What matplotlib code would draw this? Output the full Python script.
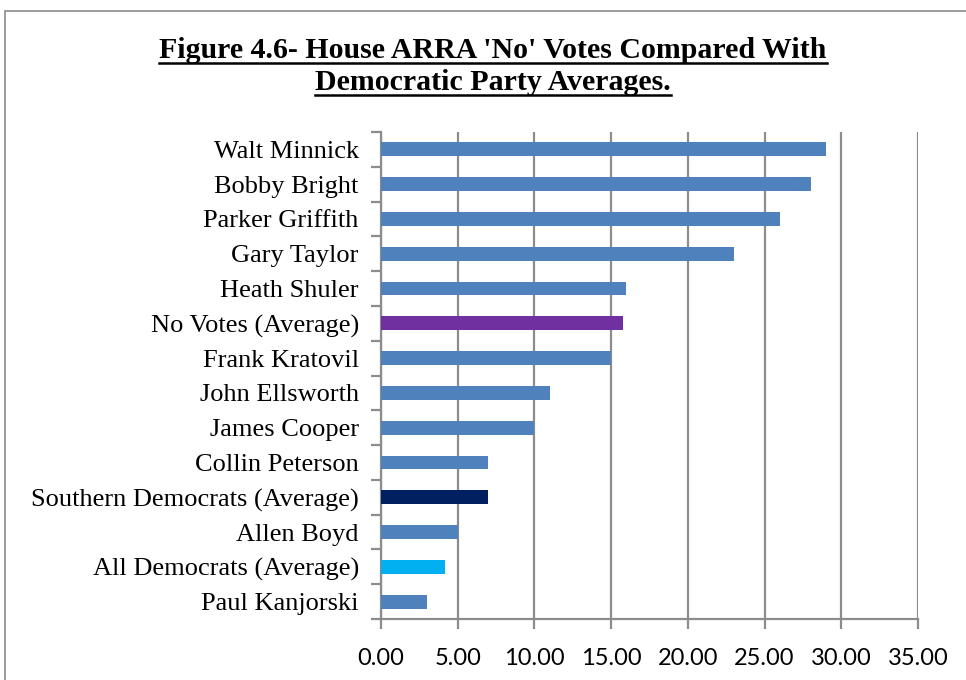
import matplotlib
matplotlib.use("Agg")
import matplotlib.pyplot as plt
from matplotlib.lines import Line2D
from matplotlib.patches import Rectangle
import numpy as np

categories = ["Walt Minnick", "Bobby Bright", "Parker Griffith", "Gary Taylor",
              "Heath Shuler", "No Votes (Average)", "Frank Kratovil", "John Ellsworth",
              "James Cooper", "Collin Peterson", "Southern Democrats (Average)",
              "Allen Boyd", "All Democrats (Average)", "Paul Kanjorski"]
values = [29.0, 28.0, 26.0, 23.0, 16.0, 15.75, 15.0, 11.0, 10.0, 7.0, 6.95, 5.0, 4.2, 3.0]
bar_colors = ["#4F81BD"] * 5 + ["#7030A0"] + ["#4F81BD"] * 4 + ["#002060", "#4F81BD", "#00B0F0", "#4F81BD"]
xticks = [0, 5, 10, 15, 20, 25, 30, 35]
xticklabels = ["0.00", "5.00", "10.00", "15.00", "20.00", "25.00", "30.00", "35.00"]
title_lines = ["Figure 4.6- House ARRA 'No' Votes Compared With", "Democratic Party Averages."]

W, H = 966, 680
fig = plt.figure(figsize=(W / 100, H / 100), dpi=100)
fig.patch.set_facecolor("white")

# outer chart frame
fig.add_artist(Rectangle((5 / W, -0.1), 1.2, (H - 11) / H + 0.1, transform=fig.transFigure,
                         fill=False, edgecolor="#8a8a8a", linewidth=1.2))

left, right, top, bottom = 381, 918, 132, 619
ax = fig.add_axes([left / W, 1 - bottom / H, (right - left) / W, (bottom - top) / H])

n = len(categories)
y = np.arange(n)
ax.barh(y, values, height=0.4, color=bar_colors, zorder=3)
ax.set_ylim(n - 0.5, -0.5)
ax.set_xlim(0, 35)

grid_c = "#8c8c8c"
ax.set_xticks(xticks)
ax.set_xticklabels(xticklabels, fontfamily="Lato", fontsize=17)
ax.xaxis.grid(True, color=grid_c, linewidth=1.6, zorder=0)
ax.tick_params(axis="x", direction="out", length=7, width=1.6, color=grid_c, pad=14)

ax.set_yticks(y)
ax.set_yticklabels(categories, fontfamily="Liberation Serif", fontsize=19)
ax.set_yticks(np.arange(n + 1) - 0.5, minor=True)
ax.tick_params(axis="y", which="major", length=0, pad=16)
ax.tick_params(axis="y", which="minor", direction="out", length=7, width=1.6, color=grid_c)

for s in ["top", "right"]:
    ax.spines[s].set_visible(False)
for s in ["left", "bottom"]:
    ax.spines[s].set_color(grid_c)
    ax.spines[s].set_linewidth(1.6)

# title with underline
fig.canvas.draw()
renderer = fig.canvas.get_renderer()
cx = 493 / W
for line, yb in zip(title_lines, [58, 90]):
    t = fig.text(cx, 1 - yb / H, line, ha="center", va="baseline",
                 fontfamily="Liberation Serif", fontweight="bold", fontsize=21.5)
    bb = t.get_window_extent(renderer=renderer)
    uy = 1 - (yb + 5) / H
    fig.add_artist(Line2D([bb.x0 / W, bb.x1 / W], [uy, uy], transform=fig.transFigure,
                          color="black", linewidth=1.8))

fig.savefig("out.png", dpi=100)
